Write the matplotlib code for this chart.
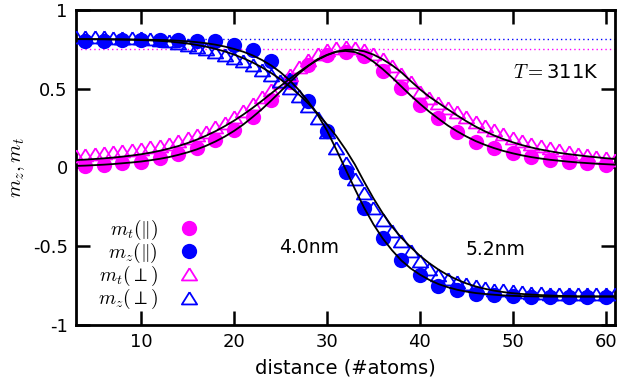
import matplotlib
matplotlib.use("Agg")
import matplotlib.pyplot as plt
import numpy as np

plt.rcParams['font.family'] = ['DejaVu Sans']
plt.rcParams['mathtext.fontset'] = 'cm'

# distances
d_circ = list(range(4, 61, 2))
d_tri = list(range(3, 62))
d_fit = list(range(3, 62))

# m_t (parallel) - filled magenta circles
mt_par = [0.012, 0.017, 0.027, 0.037, 0.058, 0.088, 0.122, 0.172, 0.236, 0.322,
          0.428, 0.545, 0.65, 0.714, 0.735, 0.705, 0.61, 0.505, 0.399, 0.312,
          0.227, 0.164, 0.122, 0.09, 0.069, 0.048, 0.037, 0.027, 0.016]

# m_z (parallel) - filled blue circles
mz_par = [0.80, 0.805, 0.81, 0.81, 0.81, 0.81, 0.805, 0.80, 0.775, 0.745,
          0.675, 0.556, 0.42, 0.23, -0.03, -0.26, -0.45, -0.59, -0.685, -0.75,
          -0.78, -0.80, -0.81, -0.815, -0.82, -0.82, -0.82, -0.82, -0.82]

# m_t (perpendicular) - open magenta triangles
mt_perp = [0.075, 0.08, 0.085, 0.09, 0.097, 0.103, 0.11, 0.118, 0.128, 0.138,
           0.152, 0.167, 0.185, 0.205, 0.228, 0.255, 0.285, 0.32, 0.36, 0.40,
           0.445, 0.49, 0.54, 0.59, 0.64, 0.68, 0.72, 0.745, 0.76, 0.765,
           0.76, 0.745, 0.72, 0.69, 0.645, 0.595, 0.54, 0.48, 0.44, 0.41,
           0.38, 0.35, 0.32, 0.29, 0.265, 0.24, 0.215, 0.19, 0.17, 0.15,
           0.135, 0.122, 0.11, 0.098, 0.087, 0.077, 0.068, 0.058, 0.05]

# m_z (perpendicular) - open blue triangles
mz_perp = [0.83, 0.83, 0.83, 0.83, 0.825, 0.825, 0.82, 0.82, 0.815, 0.81,
           0.80, 0.79, 0.78, 0.765, 0.75, 0.735, 0.715, 0.695, 0.675, 0.65,
           0.62, 0.59, 0.55, 0.505, 0.455, 0.39, 0.315, 0.225, 0.125, 0.03,
           -0.07, -0.165, -0.255, -0.335, -0.405, -0.465, -0.53, -0.595, -0.645, -0.68,
           -0.705, -0.725, -0.742, -0.755, -0.765, -0.775, -0.78, -0.785, -0.79, -0.795,
           -0.795, -0.80, -0.80, -0.80, -0.80, -0.80, -0.80, -0.80, -0.80]

# fitted curves (black)
fit_mt_par = [0.01, 0.012, 0.015, 0.018, 0.022, 0.027, 0.032, 0.038, 0.046, 0.055,
              0.066, 0.08, 0.096, 0.115, 0.138, 0.165, 0.196, 0.232, 0.273, 0.32,
              0.37, 0.425, 0.483, 0.54, 0.597, 0.645, 0.688, 0.715, 0.735, 0.74,
              0.733, 0.71, 0.672, 0.625, 0.572, 0.515, 0.458, 0.405, 0.355, 0.31,
              0.267, 0.23, 0.197, 0.168, 0.144, 0.123, 0.105, 0.09, 0.077, 0.066,
              0.057, 0.049, 0.043, 0.037, 0.032, 0.028, 0.024, 0.021, 0.018]
fit_mt_perp = [0.047, 0.05, 0.054, 0.058, 0.063, 0.069, 0.076, 0.084, 0.094, 0.106,
               0.12, 0.136, 0.155, 0.177, 0.202, 0.23, 0.262, 0.297, 0.336, 0.378,
               0.423, 0.47, 0.517, 0.563, 0.607, 0.647, 0.683, 0.713, 0.735, 0.747,
               0.748, 0.738, 0.717, 0.687, 0.65, 0.605, 0.55, 0.497, 0.45, 0.41,
               0.37, 0.331, 0.294, 0.26, 0.23, 0.203, 0.18, 0.16, 0.142, 0.127,
               0.114, 0.103, 0.093, 0.085, 0.078, 0.071, 0.065, 0.059, 0.054]
fit_mz_par = [0.815, 0.815, 0.815, 0.815, 0.814, 0.814, 0.813, 0.812, 0.811, 0.81,
              0.808, 0.805, 0.801, 0.796, 0.789, 0.78, 0.768, 0.753, 0.735, 0.712,
              0.683, 0.648, 0.605, 0.553, 0.491, 0.418, 0.335, 0.235, 0.115, -0.01,
              -0.135, -0.255, -0.36, -0.45, -0.525, -0.59, -0.64, -0.68, -0.713, -0.74,
              -0.76, -0.776, -0.788, -0.797, -0.803, -0.808, -0.812, -0.815, -0.817, -0.818,
              -0.819, -0.82, -0.82, -0.82, -0.82, -0.82, -0.82, -0.82, -0.82]
fit_mz_perp = [0.815, 0.815, 0.814, 0.814, 0.813, 0.812, 0.811, 0.809, 0.807, 0.804,
               0.8, 0.794, 0.787, 0.778, 0.767, 0.753, 0.737, 0.717, 0.694, 0.667,
               0.636, 0.6, 0.56, 0.514, 0.463, 0.406, 0.343, 0.274, 0.2, 0.115,
               0.02, -0.09, -0.195, -0.29, -0.375, -0.445, -0.505, -0.56, -0.607, -0.648,
               -0.683, -0.712, -0.736, -0.755, -0.77, -0.782, -0.791, -0.798, -0.803, -0.807,
               -0.81, -0.813, -0.815, -0.816, -0.818, -0.818, -0.818, -0.818, -0.818]

sat_mz = 0.815
sat_mt = 0.75

MAG = '#ff00ff'
BLU = '#0000ff'

TRI = [(0, 0.82), (-1, -0.78), (1, -0.78), (0, 0.82)]

fig = plt.figure(figsize=(6.41, 3.85), dpi=100)
ax = fig.add_axes([76/641, 1-325/385, (615-76)/641, (325-10)/385])

ax.axhline(sat_mz, color=BLU, lw=1.0, ls=(0, (1, 2.2)), zorder=1)
ax.axhline(sat_mt, color=MAG, lw=1.0, ls=(0, (1, 2.2)), zorder=1)

ax.plot(d_circ, mt_par, 'o', color=MAG, ms=11, mec='none', label=r'$m_t(\Vert)$', zorder=2)
ax.plot(d_circ, mz_par, 'o', color=BLU, ms=11, mec='none', label=r'$m_z(\Vert)$', zorder=2)
ax.plot(d_tri, mt_perp, marker=TRI, ls='none', color=MAG, ms=11, mfc='none', mew=1.3,
        label=r'$m_t(\perp)$', zorder=3)
ax.plot(d_tri, mz_perp, marker=TRI, ls='none', color=BLU, ms=11, mfc='none', mew=1.3,
        label=r'$m_z(\perp)$', zorder=3)

for f in (fit_mt_par, fit_mt_perp, fit_mz_par, fit_mz_perp):
    ax.plot(d_fit, f, '-', color='black', lw=1.3, zorder=4)

ax.set_xlim(3, 61)
ax.set_ylim(-1, 1)
ax.set_xticks([10, 20, 30, 40, 50, 60])
ax.set_yticks([-1, -0.5, 0, 0.5, 1])
ax.set_yticklabels(['-1', '-0.5', '0', '0.5', '1'])
ax.tick_params(direction='in', length=10, width=1.8, labelsize=13, top=True, right=True, pad=6)
for s in ax.spines.values():
    s.set_linewidth(2)

ax.set_xlabel('distance (#atoms)', fontsize=14, labelpad=5)
ax.set_ylabel(r'$m_z,m_t$', fontsize=15, labelpad=4)

ax.text(28.1, -0.51, '4.0nm', fontsize=13.5, ha='center', va='center')
ax.text(48.1, -0.52, '5.2nm', fontsize=13.5, ha='center', va='center')
ax.text(59.2, 0.6, r'$T{=}$311K', fontsize=14, ha='right', va='center')

leg = ax.legend(loc='upper right', bbox_to_anchor=(0.228, 0.34), frameon=False,
                markerfirst=False, fontsize=14, handlelength=1.0, handletextpad=1.1,
                labelspacing=-0.05, borderpad=0, borderaxespad=0)

fig.savefig('out.png', dpi=100)
